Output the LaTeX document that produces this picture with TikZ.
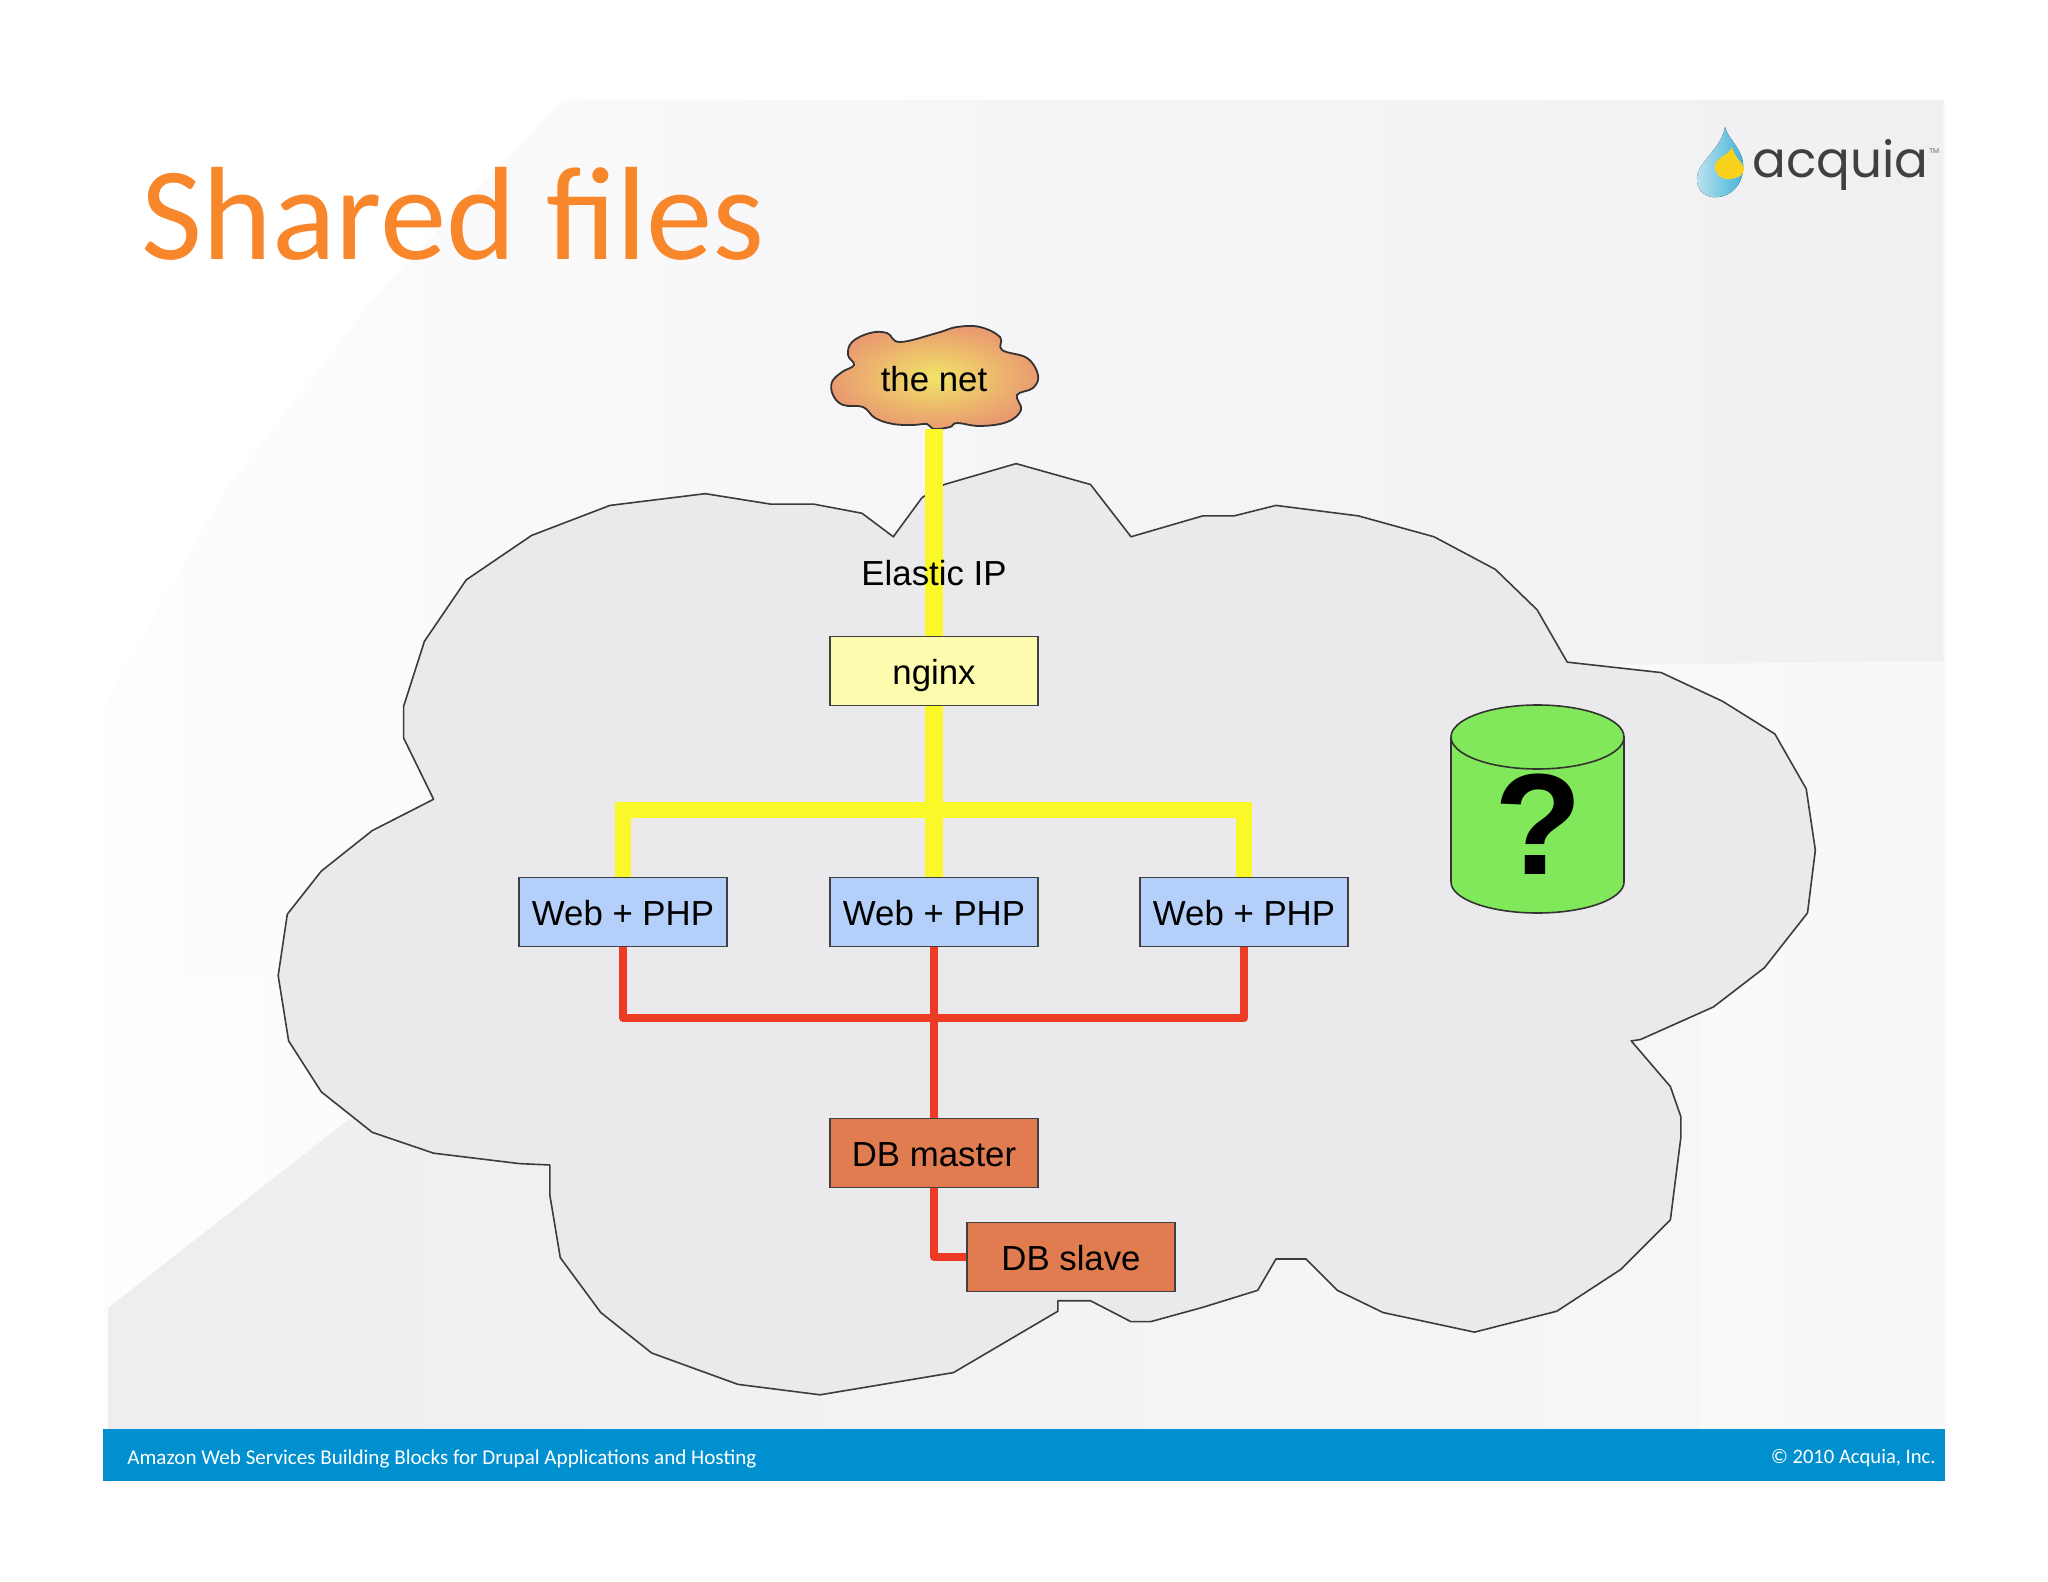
\documentclass[tikz,border=0pt]{standalone}
\usepackage{fontspec}
\setmainfont{Liberation Sans}
\newfontfamily\titlefont{Carlito}
\newfontfamily\footfont{Carlito}
\newfontfamily\logofont{Poppins}
\definecolor{baseL}{HTML}{FDFDFE}
\definecolor{baseM}{HTML}{FAFAFC}
\definecolor{baseR}{HTML}{F8F8FA}
\definecolor{topL}{HTML}{FDFDFE}
\definecolor{topM}{HTML}{F5F5F7}
\definecolor{topR}{HTML}{F0F0F2}
\definecolor{lowL}{HTML}{EEEEF0}
\definecolor{lowM}{HTML}{F3F3F5}
\definecolor{cloudfill}{HTML}{EAEAEC}
\definecolor{cloudline}{HTML}{3C3C3C}
\definecolor{titleorange}{HTML}{F8862B}
\definecolor{footblue}{HTML}{0090CF}
\definecolor{wireyellow}{HTML}{FBF82A}
\definecolor{wirered}{HTML}{EE3B26}
\definecolor{nginxfill}{HTML}{FDFCAE}
\definecolor{webfill}{HTML}{B4D0FA}
\definecolor{dbfill}{HTML}{E07C50}
\definecolor{storefill}{HTML}{80E85A}
\definecolor{netinner}{HTML}{F0E468}
\definecolor{netouter}{HTML}{EA9A70}
\definecolor{dropL}{HTML}{C4E6F0}
\definecolor{dropR}{HTML}{3FB2D8}
\definecolor{dropY}{HTML}{F9D21E}
\newcommand{\gradbands}[3]{%
  \foreach \k in {0,...,23} {%
    \pgfmathsetmacro\xa{103+\k*80}%
    \pgfmathsetmacro\xb{103+\k*80+81}%
    \pgfmathsetmacro\tt{\k/23*100}%
    \pgfmathsetmacro\pa{min(100,2*\tt)}%
    \pgfmathsetmacro\pb{max(0,2*\tt-100)}%
    \colorlet{bandA}{#2!\pa!#1}%
    \colorlet{bandB}{#3!\pb!bandA}%
    \fill[bandB] (\xa,90) rectangle (\xb,1440);
  }%
}
\tikzset{
  boxnode/.style={draw=black!75,line width=.7pt,minimum width=104pt,minimum height=34.5pt,inner sep=0pt,text height=13pt,text depth=0pt,font=\fontsize{17.4}{20}\selectfont},
  yellowwire/.style={draw=wireyellow,line width=8.6pt},
  yellowbus/.style={draw=wireyellow,line width=8pt},
  redwire/.style={draw=wirered,line width=4.1pt,line join=round},
  labeltext/.style={font=\fontsize{17.4}{20}\selectfont,inner sep=0pt}
}
\begin{document}
\begin{tikzpicture}[x=.5pt,y=-.5pt]
\useasboundingbox (0,0) rectangle (2048,1582);
\fill[white] (0,0) rectangle (2048,1582);
% slide background
\begin{scope}
\clip (563,100) -- (1945,100) -- (1945,1429) -- (103,1429) -- (103,710) -- (224,492) -- (380,291) -- cycle;
\gradbands{baseL}{baseM}{baseR}
\end{scope}
\begin{scope}
\clip (563,100) -- (1943,100) -- (1943,661) -- (1600,665) -- (700,800) -- (290,975) -- (103,975) -- (103,710) -- (224,492) -- (380,291) -- cycle;
\gradbands{topL}{topM}{topR}
\end{scope}
\begin{scope}
\clip (108,1308) -- (348,1120) -- (1100,1000) -- (1700,1000) -- (1700,1429) -- (108,1429) -- cycle;
\gradbands{lowL}{lowM}{baseR}
\end{scope}
% big cloud
\begin{scope}[scale=1.306]
\draw[fill=cloudfill,draw=cloudline,line width=.8pt,line join=round]
 (684,411)--(660,393)--(623,386)--(590,386)--(540,378)--(467,387)--(407,410)--(357,444)--(325,491)--(309,541)--(309,565)--(332,612)--(285,636)--(246,667)--(220,700)--(213,747)--(221,797)--(246,836)--(285,867)--(332,883)--(398,891)--(421,892)--(421,915)--(429,963)--(460,1005)--(499,1036)--(565,1060)--(628,1068)--(730,1051)--(810,1004)--(810,996)--(835,996)--(866,1012)--(881,1012)--(921,1001)--(963,988)--(977,964)--(1000,964)--(1024,988)--(1059,1005)--(1129,1020)--(1192,1004)--(1241,972)--(1279,934)--(1287,871)--(1287,855)--(1279,832)--(1249,797)--(1256,796)--(1312,771)--(1351,741)--(1384,699)--(1390,651)--(1383,604)--(1359,562)--(1319,537)--(1272,515)--(1200,507)--(1177,467)--(1145,436)--(1098,411)--(1040,395)--(977,387)--(945,395)--(921,395)--(866,411)--(835,371)--(778,355)--(723,371)--(706,381)--cycle;
\end{scope}
% title and logo
\node[anchor=base west,inner sep=0pt,text=titleorange,font=\titlefont\fontsize{66.4}{70}\selectfont] (title) at (141,260) {Shared files};
\fill[left color=dropL,right color=dropR] (1725,127) .. controls (1728,140) and (1745,150) .. (1743,170) .. controls (1741,190) and (1725,199) .. (1712,197) .. controls (1698,195) and (1693,180) .. (1700,168) .. controls (1706,157) and (1722,145) .. (1725,127) -- cycle;
\fill[dropY] (1732,147) .. controls (1734,158) and (1745,164) .. (1744,170) .. controls (1743,176) and (1736,179) .. (1728,179) .. controls (1720,179) and (1714,173) .. (1715,165) .. controls (1716,158) and (1729,155) .. (1732,147) -- cycle;
\node[anchor=base west,inner sep=0pt,text=black!75,font=\logofont\fontsize{25}{28}\selectfont] (logo) at (1752,178) {acquia};
\node[anchor=base west,inner sep=0pt,text=black!60,font=\logofont\fontsize{3.5}{4}\selectfont] (logotm) at (1929,154) {TM};
% footer
\fill[footblue] (103,1429) rectangle (1945,1481);
\node[anchor=base west,inner sep=0pt,text=white,font=\footfont\fontsize{10.55}{13}\selectfont] (foot) at (127,1464) {Amazon Web Services Building Blocks for Drupal Applications and Hosting};
\node[anchor=base east,inner sep=0pt,text=white,font=\footfont\fontsize{10.3}{13}\selectfont] (copy) at (1936,1463) {© 2010 Acquia, Inc.};
% nodes
\node[boxnode,fill=nginxfill] (nginx) at (934,671) {nginx};
\node[boxnode,fill=webfill] (web1) at (623,912) {Web + PHP};
\node[boxnode,fill=webfill] (web2) at (934,912) {Web + PHP};
\node[boxnode,fill=webfill] (web3) at (1244,912) {Web + PHP};
\node[boxnode,fill=dbfill] (master) at (934,1153) {DB master};
\node[boxnode,fill=dbfill] (slave) at (1071,1257) {DB slave};
\coordinate (ybus) at (934,810);
\coordinate (rbus) at (934,1018);
% the net cloud
\draw[draw=black!80,line width=.9pt,inner color=netinner,outer color=netouter]
 plot[smooth cycle,tension=.65] coordinates {
 (854,365) (842,372) (832,382) (833,395) (843,405) (863,407) (875,418) (893,424) (913,425) (927,424) (934,429) (950,427) (957,423) (980,426) (1007,422) (1021,410) (1017,395) (1033,388) (1038,375) (1027,358) (1002,350) (1000,337) (980,327) (957,327) (937,333) (900,342) (887,333) (870,333) (852,342) (848,355)};
\node[minimum width=90pt,minimum height=50pt,inner sep=0pt,font=\fontsize{17.4}{20}\selectfont] (net) at (934,379) {the net};
% connectors
\draw[yellowwire] (net.south) -- (nginx.north);
\node[labeltext] (eip) at (934,573) {Elastic IP};
\draw[yellowwire] (nginx.south) -- (ybus);
\draw[yellowwire] (ybus) -- (web2.north);
\draw[yellowbus,line join=miter] (web1.north) |- (ybus) -| (web3.north);
\draw[redwire] (web2.south) -- (master.north);
\draw[redwire] (web1.south) |- (rbus) -| (web3.south);
\draw[redwire] (master.south) |- (slave.west);
% storage
\draw[fill=storefill,draw=black!80,line width=.8pt] (1451,737) -- (1451,882) arc[start angle=180,end angle=360,x radius=86.5,y radius=-31] -- (1624,737) arc[start angle=0,end angle=-180,x radius=86.5,y radius=32] -- cycle;
\draw[draw=black!80,line width=.8pt] (1451,737) arc[start angle=180,end angle=360,x radius=86.5,y radius=-32];
\node[inner sep=0pt,font=\bfseries\fontsize{72}{74}\selectfont] (query) at (1538,824) {?};
\end{tikzpicture}
\end{document}
